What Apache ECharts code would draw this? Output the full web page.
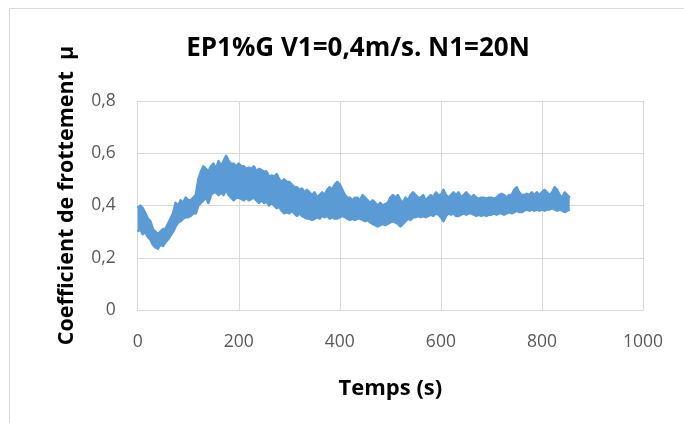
<!DOCTYPE html>
<html>
<head>
<meta charset="utf-8">
<script src="https://cdn.jsdelivr.net/npm/echarts@6/dist/echarts.min.js"></script>
<style>
    html, body { margin: 0; padding: 0; background: #fff; }
    #chart { width: 684px; height: 423px; }
</style>
</head>
<body>
<div id="chart"></div>
<script>
var pas = 5;
var tMax = 1000;
// enveloppe haute du coefficient de frottement, de 0 a 855 s
var haut = [
    0.39, 0.40, 0.39, 0.37, 0.35, 0.34, 0.31, 0.30, 0.29, 0.30,
    0.31, 0.31, 0.33, 0.35, 0.37, 0.41, 0.40, 0.42, 0.41, 0.43,
    0.42, 0.42, 0.43, 0.44, 0.50, 0.53, 0.55, 0.54, 0.53, 0.55,
    0.56, 0.54, 0.57, 0.55, 0.57, 0.59, 0.57, 0.56, 0.56, 0.55,
    0.56, 0.55, 0.55, 0.54, 0.545, 0.54, 0.55, 0.53, 0.54, 0.535,
    0.53, 0.53, 0.51, 0.515, 0.51, 0.52, 0.50, 0.49, 0.50, 0.49,
    0.49, 0.48, 0.47, 0.47, 0.46, 0.465, 0.45, 0.46, 0.45, 0.44,
    0.45, 0.43, 0.44, 0.45, 0.44, 0.46, 0.47, 0.46, 0.48, 0.49,
    0.48, 0.46, 0.44, 0.43, 0.43, 0.42, 0.43, 0.43, 0.42, 0.44,
    0.43, 0.42, 0.41, 0.42, 0.41, 0.40, 0.41, 0.40, 0.405, 0.41,
    0.43, 0.44, 0.43, 0.44, 0.42, 0.41, 0.43, 0.42, 0.44, 0.45,
    0.44, 0.43, 0.43, 0.44, 0.42, 0.43, 0.44, 0.43, 0.45, 0.44,
    0.44, 0.46, 0.44, 0.43, 0.44, 0.45, 0.44, 0.45, 0.43, 0.44,
    0.45, 0.44, 0.43, 0.44, 0.43, 0.425, 0.43, 0.43, 0.425, 0.43,
    0.43, 0.425, 0.43, 0.44, 0.445, 0.44, 0.43, 0.44, 0.44, 0.46,
    0.47, 0.45, 0.44, 0.44, 0.445, 0.44, 0.45, 0.44, 0.45, 0.44,
    0.45, 0.46, 0.45, 0.44, 0.45, 0.47, 0.46, 0.44, 0.43, 0.45,
    0.44, 0.43
];
// enveloppe basse
var bas = [
    0.30, 0.31, 0.29, 0.30, 0.28, 0.27, 0.25, 0.24, 0.235, 0.25,
    0.245, 0.26, 0.27, 0.285, 0.30, 0.32, 0.335, 0.34, 0.35, 0.355,
    0.355, 0.36, 0.37, 0.37, 0.40, 0.41, 0.42, 0.43, 0.41, 0.44,
    0.45, 0.45, 0.44, 0.45, 0.44, 0.46, 0.44, 0.43, 0.42, 0.43,
    0.43, 0.425, 0.42, 0.43, 0.42, 0.425, 0.43, 0.42, 0.41, 0.42,
    0.41, 0.415, 0.40, 0.41, 0.40, 0.39, 0.395, 0.38, 0.37, 0.375,
    0.37, 0.38, 0.37, 0.36, 0.37, 0.36, 0.355, 0.35, 0.35, 0.345,
    0.35, 0.355, 0.35, 0.36, 0.355, 0.36, 0.35, 0.355, 0.35, 0.35,
    0.355, 0.36, 0.355, 0.35, 0.345, 0.35, 0.345, 0.35, 0.35, 0.345,
    0.34, 0.345, 0.335, 0.33, 0.325, 0.32, 0.325, 0.33, 0.325, 0.33,
    0.335, 0.34, 0.335, 0.33, 0.32, 0.33, 0.34, 0.35, 0.345, 0.355,
    0.355, 0.36, 0.355, 0.36, 0.355, 0.36, 0.365, 0.36, 0.37, 0.365,
    0.355, 0.34, 0.36, 0.37, 0.365, 0.37, 0.36, 0.36, 0.365, 0.37,
    0.365, 0.37, 0.37, 0.365, 0.36, 0.365, 0.36, 0.365, 0.36, 0.365,
    0.365, 0.37, 0.365, 0.37, 0.37, 0.365, 0.37, 0.375, 0.37, 0.375,
    0.38, 0.375, 0.375, 0.38, 0.385, 0.38, 0.385, 0.38, 0.385, 0.38,
    0.385, 0.38, 0.385, 0.385, 0.39, 0.385, 0.38, 0.385, 0.38, 0.375,
    0.38, 0.385
];
var yTicks = [0, 0.2, 0.4, 0.6, 0.8];

var bleu = '#5b9bd5';
var grille = '#d9d9d9';
var police = '"Open Sans", "Noto Sans", sans-serif';

// axe des temps : une categorie tous les 5 s, de 0 a 1000 s
var temps = [];
for (var t = 0; t <= tMax; t += pas) {
    temps.push(String(t));
}
var ecart = [];
for (var i = 0; i < bas.length; i++) {
    ecart.push(+(haut[i] - bas[i]).toFixed(3));
}
var tous200 = function (idx) {
    return (idx * pas) % 200 === 0;
};

var chart = echarts.init(document.getElementById('chart'));
var option = {
    backgroundColor: '#fff',
    animation: false,
    title: {
        text: 'EP1%G V1=0,4m/s. N1=20N',
        left: 353,
        top: 31,
        textAlign: 'center',
        textStyle: {fontFamily: police, fontWeight: 'bold', fontSize: 26, color: '#000'}
    },
    graphic: [{
        type: 'rect',
        shape: {x: 9.5, y: 8.5, width: 700, height: 450},
        style: {fill: 'none', stroke: grille, lineWidth: 1},
        silent: true
    }],
    grid: {left: 137.7, right: 41, top: 101, bottom: 113},
    xAxis: {
        type: 'category',
        data: temps,
        boundaryGap: false,
        name: 'Temps (s)',
        nameLocation: 'middle',
        nameGap: 68,
        nameTextStyle: {fontFamily: police, fontWeight: 'bold', fontSize: 22, color: '#000'},
        axisLine: {lineStyle: {color: grille}},
        axisTick: {show: false},
        axisLabel: {fontFamily: police, fontSize: 17.5, color: '#595959', margin: 23, interval: tous200},
        splitLine: {show: true, interval: tous200, lineStyle: {color: grille, width: 1}}
    },
    yAxis: {
        type: 'value',
        min: yTicks[0],
        max: yTicks[yTicks.length - 1],
        interval: 0.2,
        name: 'Coefficient de frottement  µ',
        nameLocation: 'middle',
        nameGap: 60,
        nameTextStyle: {fontFamily: police, fontWeight: 'bold', fontSize: 21.5, color: '#000', padding: [0, 0, 0, 20]},
        axisLine: {show: true, lineStyle: {color: grille}},
        axisTick: {show: false},
        axisLabel: {
            fontFamily: police, fontSize: 17.5, color: '#595959', margin: 22,
            formatter: function (v) {
                return String(+v.toFixed(1)).replace('.', ',');
            }
        },
        splitLine: {lineStyle: {color: grille, width: 1}}
    },
    series: [{
        name: 'bas',
        type: 'line',
        data: bas,
        stack: 'bande',
        symbol: 'none',
        lineStyle: {color: bleu, width: 2.5, join: 'round'}
    }, {
        name: 'mu',
        type: 'line',
        data: ecart,
        stack: 'bande',
        symbol: 'none',
        lineStyle: {color: bleu, width: 2.5, join: 'round'},
        areaStyle: {color: bleu, opacity: 1}
    }]
};
chart.setOption(option);
</script>
</body>
</html>
